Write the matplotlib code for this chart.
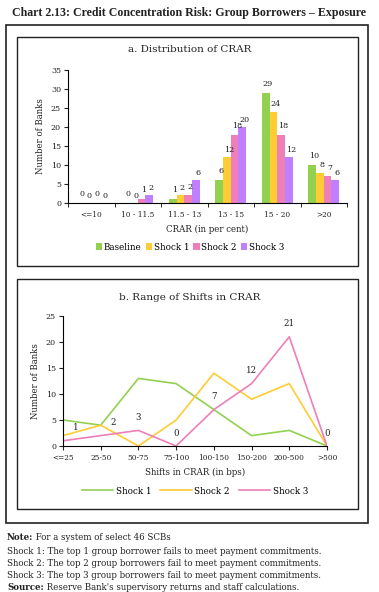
import numpy as np
import matplotlib.pyplot as plt
from matplotlib.patches import Rectangle

plt.rcParams['font.family'] = ['DejaVu Serif']

# panel a: distribution of CRAR
crar_bins = ["<=10", "10 - 11.5", "11.5 - 13", "13 - 15", "15 - 20", ">20"]
baseline = [0, 0, 1, 6, 29, 10]
shock1 = [0, 0, 2, 12, 24, 8]
shock2 = [0, 1, 2, 18, 18, 7]
shock3 = [0, 2, 6, 20, 12, 6]

# panel b: range of shifts in CRAR
shift_bins = ["<=25", "25-50", "50-75", "75-100", "100-150", "150-200", "200-500", ">500"]
line_shock1 = [5, 4, 13, 12, 7, 2, 3, 0]
line_shock2 = [2, 4, 0, 5, 14, 9, 12, 0]
line_shock3 = [1, 2, 3, 0, 7, 12, 21, 0]

GREEN = "#92d050"
YELLOW = "#ffcc33"
PINK = "#ee7fb8"
PURPLE = "#bf7fff"
TXT = "#222222"

fig = plt.figure(figsize=(3.79, 5.92), dpi=100)

# frames
for (x0, y0, x1, y1, lw) in [(6, 25, 368, 523, 1.2), (17, 37, 358, 266, 1.0), (17, 279, 358, 509, 1.0)]:
    fig.add_artist(Rectangle((x0 / 379, 1 - y1 / 592), (x1 - x0) / 379, (y1 - y0) / 592,
                             transform=fig.transFigure, fill=False, edgecolor="#222222", lw=lw))

fig.text(189 / 379, 1 - 13 / 592, "Chart 2.13: Credit Concentration Risk: Group Borrowers \u2013 Exposure",
         ha="center", va="center", fontsize=8.6, fontweight="bold", color=TXT,
         family=["Liberation Serif", "DejaVu Serif"])

# ---- panel a ----
axa = fig.add_axes([68 / 379, 1 - 203 / 592, (347 - 68) / 379, (203 - 70) / 592])
fig.text(0.5, 1 - 50 / 592, "a. Distribution of CRAR", ha="center", va="center", fontsize=7.5, color=TXT)
x = np.arange(len(crar_bins))
w = 0.165
series = [("Baseline", baseline, GREEN), ("Shock 1", shock1, YELLOW),
          ("Shock 2", shock2, PINK), ("Shock 3", shock3, PURPLE)]
for i, (name, vals, col) in enumerate(series):
    pos = x + (i - 1.5) * w
    axa.bar(pos, vals, width=w, color=col, label=name)
    for p, v in zip(pos, vals):
        axa.annotate(str(v), (p, v), textcoords="offset points", xytext=(1.5, 2.5 + (i % 2 == 0) * 1.0),
                     ha="center", va="bottom", fontsize=5.8, color=TXT)
axa.set_xlim(-0.5, len(crar_bins) - 0.5)
axa.set_ylim(0, 35)
axa.set_yticks(range(0, 36, 5))
axa.set_xticks(x)
axa.set_xticklabels(crar_bins)
axa.set_xticks(np.arange(-0.5, len(crar_bins)), minor=True)
axa.tick_params(axis="x", which="major", length=0, labelsize=5.3, pad=6, colors=TXT)
axa.tick_params(axis="x", which="minor", length=3, direction="out")
axa.tick_params(axis="y", length=3, labelsize=5.8, colors=TXT, pad=2)
for s in ["top", "right"]:
    axa.spines[s].set_visible(False)
axa.set_ylabel("Number of Banks", fontsize=6.2, color=TXT, labelpad=4)
axa.set_xlabel("CRAR (in per cent)", fontsize=6.2, color=TXT, labelpad=4)
axa.legend(loc="center", bbox_to_anchor=(190 / 379, 1 - 247 / 592), bbox_transform=fig.transFigure,
           ncol=4, frameon=False, fontsize=6.3, handlelength=0.7, handleheight=0.7,
           handletextpad=0.2, columnspacing=0.5)

# ---- panel b ----
axb = fig.add_axes([63 / 379, 1 - 446 / 592, (327 - 63) / 379, (446 - 316) / 592])
fig.text(0.5, 1 - 298 / 592, "b. Range of Shifts in CRAR", ha="center", va="center", fontsize=7.5, color=TXT)
xb = np.arange(len(shift_bins))
axb.plot(xb, line_shock1, color=GREEN, lw=1.2, label="Shock 1")
axb.plot(xb, line_shock2, color=YELLOW, lw=1.2, label="Shock 2")
axb.plot(xb, line_shock3, color=PINK, lw=1.2, label="Shock 3")
for i, v in enumerate(line_shock3):
    dx = 9 if i < 2 else 0
    axb.annotate(str(v), (xb[i], v), textcoords="offset points", xytext=(dx, 6),
                 ha="center", va="bottom", fontsize=6.2, color=TXT)
axb.set_xlim(0, len(shift_bins) - 1)
axb.set_ylim(0, 25)
axb.set_yticks(range(0, 26, 5))
axb.set_xticks(xb)
axb.set_xticklabels(shift_bins)
axb.tick_params(axis="x", length=3, labelsize=5.3, pad=3, colors=TXT)
axb.tick_params(axis="y", length=3, labelsize=5.8, colors=TXT, pad=2)
for s in ["top", "right"]:
    axb.spines[s].set_visible(False)
axb.set_ylabel("Number of Banks", fontsize=6.2, color=TXT, labelpad=4)
axb.set_xlabel("Shifts in CRAR (in bps)", fontsize=6.2, color=TXT, labelpad=4)
axb.legend(loc="center", bbox_to_anchor=(195 / 379, 1 - 491 / 592), bbox_transform=fig.transFigure,
           ncol=3, frameon=False, fontsize=6.3, handlelength=3.6, handletextpad=0.3, columnspacing=1.0)

# ---- notes ----
FS = 6.2
note_y = [538, 551, 563, 576, 588]
t1 = fig.text(7 / 379, 1 - note_y[0] / 592, "Note:", fontsize=FS, fontweight="bold", va="center", color=TXT)
axb.annotate(" For a system of select 46 SCBs", xy=(1, 0), xycoords=t1, va="bottom",
             fontsize=FS, color=TXT, annotation_clip=False)
lines = ["Shock 1: The top 1 group borrower fails to meet payment commitments.",
         "Shock 2: The top 2 group borrowers fail to meet payment commitments.",
         "Shock 3: The top 3 group borrowers fail to meet payment commitments."]
for yy, txt in zip(note_y[1:4], lines):
    fig.text(7 / 379, 1 - yy / 592, txt, fontsize=FS, va="center", color=TXT)
t2 = fig.text(7 / 379, 1 - note_y[4] / 592, "Source:", fontsize=FS, fontweight="bold", va="center", color=TXT)
axb.annotate(" Reserve Bank's supervisory returns and staff calculations.", xy=(1, 0), xycoords=t2,
             va="bottom", fontsize=FS, color=TXT, annotation_clip=False)

fig.savefig("out.png", dpi=100)
